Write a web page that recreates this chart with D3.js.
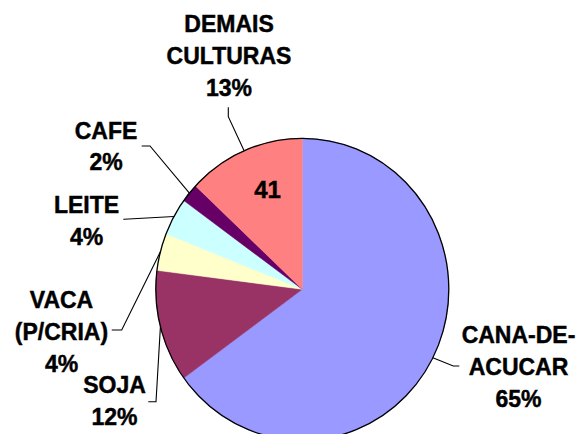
<!DOCTYPE html>
<html>
<head>
<meta charset="utf-8">
<script src="https://cdn.jsdelivr.net/npm/d3@7"></script>
<style>
  html, body { margin: 0; padding: 0; background: #ffffff; }
  svg { display: block; }
  text { font-family: "Liberation Sans", Arial, sans-serif; font-weight: bold; fill: #000; stroke: #000; stroke-width: 0.45px; }
</style>
</head>
<body>
<svg id="chart" width="583" height="434"></svg>
<script>
// Shares of each activity (percent), clockwise from 12 o'clock
const categories = ["CANA-DE-ACUCAR", "SOJA", "VACA (P/CRIA)", "LEITE", "CAFE", "DEMAIS CULTURAS"];
const shares = [65, 12, 4, 4, 2, 13];
const labelLines = [
  ["CANA-DE-", "ACUCAR"],
  ["SOJA"],
  ["VACA", "(P/CRIA)"],
  ["LEITE"],
  ["CAFE"],
  ["DEMAIS", "CULTURAS"]
];
const colors = ["#9999FF", "#993366", "#FFFFCC", "#CCFFFF", "#660066", "#FF8080"];
const innerNote = "41";

// Layout: label block centre / first baseline, and leader path from label side to elbow
const labelLayout = [
  { x: 518.5, y: 343.3, from: [459.3, 366], elbow: [453.3, 366] },
  { x: 114.5, y: 393.3, from: [148.3, 401.7], elbow: [156, 401.7] },
  { x: 61.5,  y: 308.3, from: [111.7, 330], elbow: [121.7, 330] },
  { x: 86.5,  y: 213.3, from: [123.3, 219.3], elbow: [124, 219.3] },
  { x: 106,   y: 138.5, from: [141.7, 146], elbow: [150, 146] },
  { x: 229,   y: 32,    from: [228.3, 107.3], elbow: [228.3, 116.7] }
];

const cx = 302.3, cy = 289.3, rx = 146.5, ry = 151;
const lineGap = 31.8;

const svg = d3.select("#chart");
const data = categories.map((c, i) => ({ name: c, value: shares[i], color: colors[i], lines: labelLines[i], layout: labelLayout[i] }));

const pie = d3.pie().value(d => d.value).sort(null);
const arcs = pie(data);
const arc = d3.arc().innerRadius(0).outerRadius(ry);

const g = svg.append("g").attr("transform", `translate(${cx},${cy}) scale(${rx / ry},1)`);

g.selectAll("path.slice")
  .data(arcs)
  .enter().append("path")
  .attr("class", "slice")
  .attr("d", arc)
  .attr("fill", d => d.data.color)
  .attr("stroke", d => d.data.color)
  .attr("stroke-width", 0.5);

// outer rim
g.append("ellipse")
  .attr("cx", 0).attr("cy", 0).attr("rx", ry).attr("ry", ry)
  .attr("fill", "none")
  .attr("stroke", "#000")
  .attr("stroke-width", 1.3)
  .attr("vector-effect", "non-scaling-stroke");

// point on the rim at the middle of a slice
function rimPoint(d) {
  const a = (d.startAngle + d.endAngle) / 2;
  return [cx + rx * Math.sin(a), cy - ry * Math.cos(a)];
}

// leader lines
const line = d3.line();
svg.selectAll("path.leader")
  .data(arcs)
  .enter().append("path")
  .attr("class", "leader")
  .attr("d", d => line([d.data.layout.from, d.data.layout.elbow, rimPoint(d)]))
  .attr("fill", "none")
  .attr("stroke", "#000")
  .attr("stroke-width", 1.1);

// labels: name lines followed by the percentage
const fmt = d3.format(".0f");
const labels = svg.selectAll("text.label")
  .data(arcs)
  .enter().append("text")
  .attr("class", "label")
  .attr("text-anchor", "middle")
  .attr("font-size", "23px");

labels.each(function(d) {
  const t = d3.select(this);
  const rows = d.data.lines.concat([fmt(d.data.value) + "%"]);
  rows.forEach((r, i) => {
    t.append("tspan")
      .attr("x", d.data.layout.x)
      .attr("y", d.data.layout.y + i * lineGap)
      .text(r);
  });
});

// number inside the last slice
svg.append("text")
  .attr("x", 267.5)
  .attr("y", 197.5)
  .attr("text-anchor", "middle")
  .attr("font-size", "24px")
  .text(innerNote);
</script>
</body>
</html>
